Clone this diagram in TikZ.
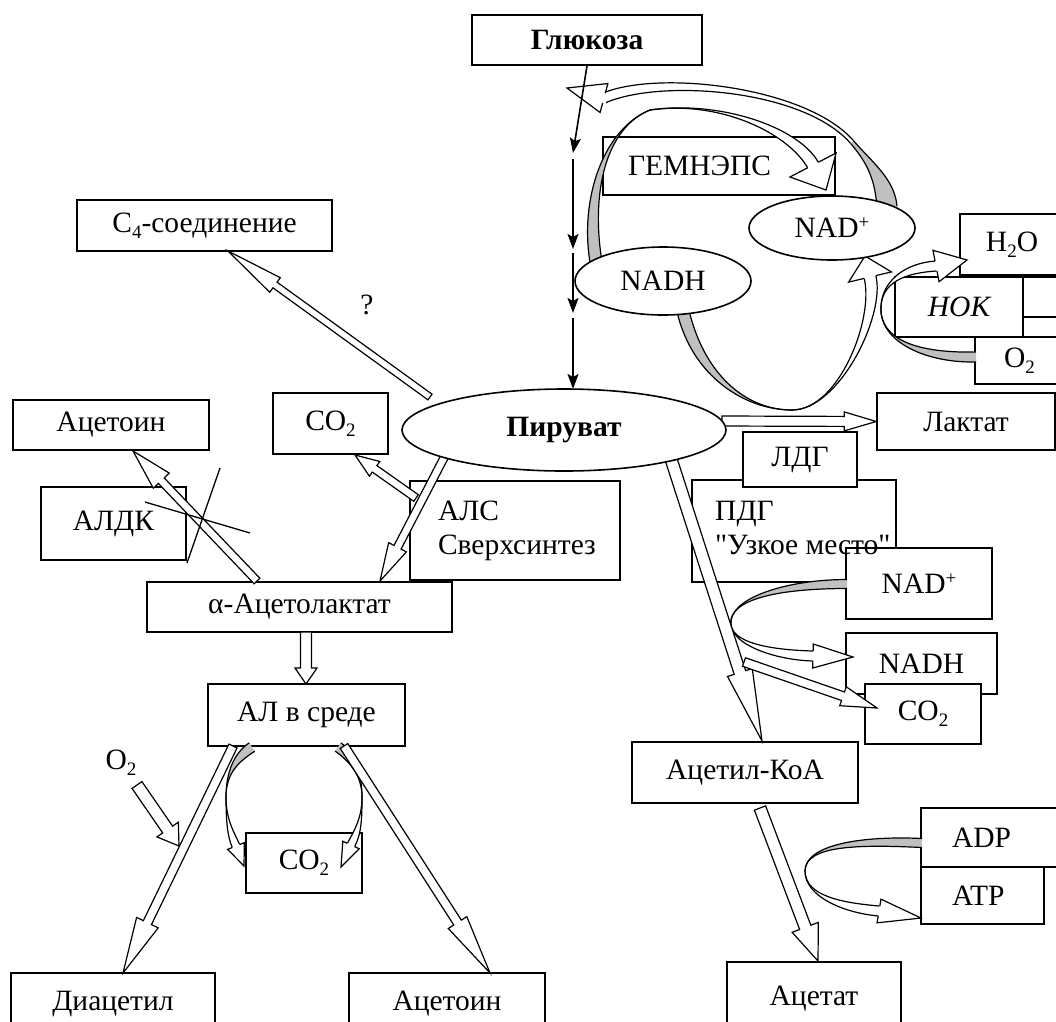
\documentclass[tikz,border=0pt]{standalone}
\usepackage{fontspec}
\setmainfont{Liberation Serif}[Ligatures=TeXOff]
\usetikzlibrary{calc,shapes.geometric,arrows.meta}
\definecolor{mygray}{RGB}{192,192,192}
\newcommand{\fs}{\fontsize{29.5}{34}\selectfont}
\newcommand{\sbs}[1]{\raisebox{-6pt}{\fontsize{19}{19}\selectfont #1}}
\newcommand{\sps}[1]{\raisebox{9pt}{\fontsize{19}{19}\selectfont #1}}
% straight block arrow: from, tip, shaft half width, head half width, head length
\newcommand{\barrow}[5]{%
  \coordinate (bh) at ($#2!#5!#1$);
  \draw[arrline] ($#1!#3!90:#2$) -- ($(bh)!#3!90:#2$) -- ($(bh)!#4!90:#2$) -- #2
     -- ($(bh)!#4!-90:#2$) -- ($(bh)!#3!-90:#2$) -- ($#1!#3!-90:#2$) -- cycle;}
% open head: base, tip, head half width, shaft half width
\newcommand{\mhead}[4]{%
  \filldraw[arrline] ($#1!#4!90:#2$) -- ($#1!#3!90:#2$) -- #2 -- ($#1!#3!-90:#2$) -- ($#1!#4!-90:#2$);}
% tapered band along a Bezier: p0 c1 c2 p3, half width at p0, at p3, fill
\newcommand{\taper}[7]{%
  \coordinate (tA) at ($#1!#5!90:#2$);
  \coordinate (tB) at ($#2!#5!-90:#1$);
  \coordinate (tC) at ($#3!#6!90:#4$);
  \coordinate (tD) at ($#4!#6!-90:#3$);
  \coordinate (ta) at ($#1!#5!-90:#2$);
  \coordinate (tb) at ($#2!#5!90:#1$);
  \coordinate (tc) at ($#3!#6!-90:#4$);
  \coordinate (td) at ($#4!#6!90:#3$);
  \fill[#7] (tA) .. controls (tB) and (tC) .. (tD) -- (td) .. controls (tc) and (tb) .. (ta) -- cycle;
  \draw[tline] (tA) .. controls (tB) and (tC) .. (tD);
  \draw[tline] (td) .. controls (tc) and (tb) .. (ta);}
\begin{document}
\begin{tikzpicture}[x=1pt,y=-1pt,
  box/.style={draw, line width=1.6pt, fill=white, inner sep=0pt, font=\fs},
  ell/.style={draw, ellipse, line width=1.6pt, fill=white, inner sep=0pt, font=\fs},
  sz/.style 2 args={minimum width=#1pt, minimum height=#2pt},
  plain/.style={inner sep=0pt, font=\fs},
  arrline/.style={draw=black, fill=white, line width=1.2pt, line join=miter},
  tline/.style={draw=black, line width=1.2pt},
  chain/.style={line width=1.6pt, -{Stealth[length=15pt,width=11pt,inset=3pt]}},
  xline/.style={line width=1.3pt}]
\useasboundingbox (0,0) rectangle (1056,1021);
\fill[white] (0,0) rectangle (1056,1021);

% ---------- boxes ----------
\node[box,sz={232}{58},text width=182pt,align=left,inner xsep=25pt] (gem) at (719,166) {ГЕМНЭПС};
\node[box,sz={104}{61}] (h2o) at (1012,244.5) {H\sbs{2}O};
\node[box,sz={70}{40}] (hbox) at (1029,297) {};
\node[box,sz={128}{60},font=\fs\itshape] (nok) at (959,307) {НОК};
\node[box,sz={89}{47}] (o2) at (1019.5,360.5) {O\sbs{2}};
\node[box,sz={178}{57}] (lac) at (966,421.5) {Лактат};
\node[box,sz={204}{102}] (pdg) at (794,531) {};
\node[box,sz={114}{55}] (ldg) at (800,459.5) {ЛДГ};
\node[box,sz={146}{71}] (nad2) at (919,583.5) {NAD\sps{+}};
\node[plain,anchor=west,align=left] (pdgt) at (715,528) {ПДГ\\"Узкое место"};
\node[box,sz={151}{61}] (nadh2) at (921.5,663.5) {NADH};
\node[box,sz={116}{60}] (co2r) at (923,714) {CO\sbs{2}};
\node[box,sz={226}{61}] (acoa) at (745,772.5) {Ацетил-КоА};
\node[box,sz={143}{59},text width=81pt,align=left,inner xsep=31pt] (adp) at (992.5,837.5) {ADP};
\node[box,sz={123}{57},text width=61pt,align=left,inner xsep=31pt] (atp) at (982.5,895.5) {ATP};
\node[box,sz={174}{73}] (acet) at (814,998.5) {Ацетат};

\node[box,sz={255}{51}] (c4) at (204.5,225.5) {C\sbs{4}-соединение};
\node[box,sz={196}{50}] (acetin) at (111,425) {Ацетоин};
\node[box,sz={145}{73}] (aldk) at (113.5,523.5) {АЛДК};
\node[box,sz={115}{61}] (co2l) at (330.5,423.5) {CO\sbs{2}};
\node[box,sz={210}{99},text width=154pt,align=left,inner xsep=28pt] (als) at (515,530.5) {АЛС\\Сверхсинтез};
\node[box,sz={305}{50}] (ala) at (299.5,607) {α-Ацетолактат};
\node[box,sz={197}{62}] (al) at (306.5,715) {АЛ в среде};
\node[box,sz={116}{60}] (co2m) at (304,863) {CO\sbs{2}};
\node[box,sz={204}{62}] (diac) at (113,1004) {Диацетил};
\node[box,sz={196}{62}] (acet2) at (447,1004) {Ацетоин};
\node[box,sz={230}{50},font=\fs\bfseries] (glu) at (587,40) {Глюкоза};

% ---------- coupled (curved) arrows ----------
% NADH -> top -> NAD+ (inner loop)
\taper{(650,110)}{(605,128)}{(585,195)}{(596,262)}{0pt}{6pt}{mygray}
\taper{(650,110)}{(720,100)}{(793,130)}{(813,165)}{0pt}{6pt}{white}
\mhead{(813,165)}{(826,190)}{26pt}{6pt}
% NAD+ -> over the top -> glycolysis (outer arc)
\taper{(852,142)}{(870,163)}{(885,180)}{(887,207)}{2pt}{10pt}{mygray}
\taper{(852,142)}{(805,88)}{(660,74)}{(604,98)}{2pt}{5pt}{white}
\mhead{(604,98)}{(567,88)}{15pt}{5pt}
% NADH -> bottom -> NAD+ (lower loop)
\taper{(792,410)}{(745,410)}{(698,375)}{(683,311)}{0pt}{6pt}{mygray}
\taper{(792,410)}{(839,410)}{(880,317)}{(870,277)}{0pt}{6pt}{white}
\mhead{(870,277)}{(865,256)}{22pt}{6pt}
% O2 -> H2O (НОК)
\taper{(881,312)}{(884,345)}{(930,358)}{(976,357)}{0pt}{5pt}{mygray}
\taper{(881,312)}{(879,282)}{(905,268)}{(936,266)}{0pt}{5pt}{white}
\mhead{(936,266)}{(967,260)}{16pt}{5pt}
% NAD+ -> NADH (ПДГ)
\taper{(731,620)}{(735,596)}{(790,584)}{(847,584)}{0pt}{4.5pt}{mygray}
\taper{(731,620)}{(727,644)}{(775,655)}{(813,656)}{0pt}{5pt}{white}
\mhead{(813,656)}{(853,657)}{12pt}{5pt}
% ADP -> ATP
\taper{(805,871)}{(805,845)}{(860,840)}{(922,843)}{0pt}{4.5pt}{mygray}
\taper{(805,871)}{(805,897)}{(845,908)}{(879,911)}{0pt}{5pt}{white}
\mhead{(879,911)}{(921,918)}{12pt}{5pt}
% AL -> CO2 (two)
\taper{(226,797)}{(226,772)}{(237,757)}{(252,747)}{0pt}{5pt}{mygray}
\taper{(226,797)}{(226,820)}{(231,835)}{(236,846)}{0pt}{4pt}{white}
\mhead{(236,846)}{(244,866)}{9pt}{4pt}
\taper{(362,797)}{(362,775)}{(352,757)}{(338,747)}{0pt}{5pt}{mygray}
\taper{(362,797)}{(362,818)}{(358,832)}{(351,845)}{0pt}{4pt}{white}
\mhead{(351,845)}{(341,867)}{9pt}{4pt}

\node[ell,sz={166}{64}] (nadp) at (832,228) {NAD\sps{+}};
\node[ell,sz={176}{68}] (nadh) at (663,281) {NADH};

% ---------- straight block arrows ----------
\coordinate (pl) at (722,421);
\barrow{(pl)}{(lac.west)}{5pt}{9.5pt}{32pt}
\coordinate (pc4) at (430,397); \coordinate (c4t) at (228,251);
\barrow{(pc4)}{(c4t)}{3.5pt}{9pt}{58pt}
\coordinate (pa) at (447,452); \coordinate (alat) at (380,581);
\barrow{(pa)}{(alat)}{4pt}{10pt}{38pt}
\coordinate (alas) at (257,581); \coordinate (acint) at (133,451);
\barrow{(alas)}{(acint)}{4pt}{11pt}{41pt}
\coordinate (alsw) at (416,498); \coordinate (co2t) at (355,455);
\barrow{(alsw)}{(co2t)}{4pt}{9pt}{24pt}
\coordinate (ala1) at (306,632); \coordinate (al1) at (306,684);
\barrow{(ala1)}{(al1)}{5.5pt}{11pt}{16pt}
\coordinate (al2) at (233,746); \coordinate (diact) at (123,973);
\barrow{(al2)}{(diact)}{4.5pt}{12pt}{56pt}
\coordinate (al3) at (344,746); \coordinate (acet2t) at (490,973);
\barrow{(al3)}{(acet2t)}{4.5pt}{11pt}{60pt}
\coordinate (o2s) at (137,785); \coordinate (o2t) at (179,846);
\barrow{(o2s)}{(o2t)}{6pt}{13pt}{20pt}
\coordinate (pb) at (671,459); \coordinate (acoat) at (762,741);
\barrow{(pb)}{(acoat)}{6pt}{13pt}{72pt}
\coordinate (cs) at (744,662); \coordinate (co2rt) at (877,708);
\barrow{(cs)}{(co2rt)}{4.5pt}{10pt}{36pt}
\coordinate (acoab) at (760,808); \coordinate (acett) at (818,961);
\barrow{(acoab)}{(acett)}{6pt}{14pt}{36pt}

\node[ell,sz={324}{82},font=\fs\bfseries] (pyr) at (564,430) {Пируват};

% ---------- glycolysis chain ----------
\coordinate (g2) at (573,153); \coordinate (g3) at (573,159);
\coordinate (g4) at (573,249); \coordinate (g5) at (573,253);
\coordinate (g6) at (573,313); \coordinate (g7) at (573,318);
\coordinate (g8) at (573,389);
\draw[chain] (glu.south) -- (g2);
\draw[chain] (g3) -- (g4);
\draw[chain] (g5) -- (g6);
\draw[chain] (g7) -- (g8);

% ---------- cross, labels ----------
\draw[xline] (220,468) -- (187,563);
\draw[xline] (145,502) -- (250,533);
\node[plain] (q) at (367,305) {?};
\node[plain] (o2lab) at (121,763) {O\sbs{2}};
\end{tikzpicture}
\end{document}
